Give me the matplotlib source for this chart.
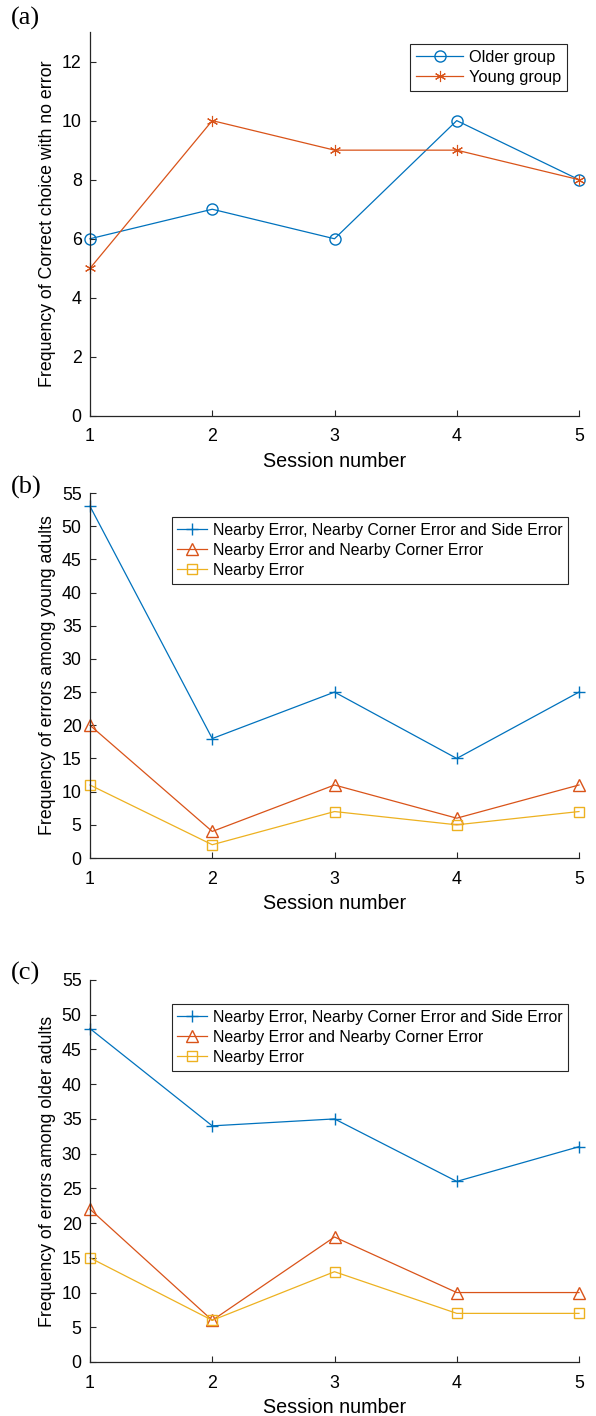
import matplotlib
matplotlib.use("Agg")
import matplotlib.pyplot as plt

sessions = [1, 2, 3, 4, 5]
older_correct = [6, 7, 6, 10, 8]
young_correct = [5, 10, 9, 9, 8]

young_all = [53, 18, 25, 15, 25]
young_nc = [20, 4, 11, 6, 11]
young_n = [11, 2, 7, 5, 7]

older_all = [48, 34, 35, 26, 31]
older_nc = [22, 6, 18, 10, 10]
older_n = [15, 6, 13, 7, 7]

lab_all = "Nearby Error, Nearby Corner Error and Side Error"
lab_nc = "Nearby Error and Nearby Corner Error"
lab_n = "Nearby Error"

C1, C2, C3 = "#0072BD", "#D95319", "#EDB120"
AX = "#262626"

plt.rcParams["font.family"] = ["Liberation Sans", "DejaVu Sans"]
plt.rcParams["font.size"] = 12

fig = plt.figure(figsize=(5.96, 14.16), dpi=100)
L, W = 90/596, (579-90)/596

def mkax(top, bottom):
    return fig.add_axes([L, 1-bottom/1416, W, (bottom-top)/1416])

def style(ax, ylim, yticks, ylabel):
    ax.set_xlim(1, 5)
    ax.set_ylim(*ylim)
    ax.set_xticks(sessions)
    ax.set_yticks(yticks)
    for s in ["top", "right"]:
        ax.spines[s].set_visible(False)
    for s in ["left", "bottom"]:
        ax.spines[s].set_color(AX)
        ax.spines[s].set_linewidth(0.9)
    ax.tick_params(direction="in", length=4, colors=AX, labelsize=12.8, labelcolor="black")
    ax.tick_params(axis="y", pad=6)
    ax.tick_params(axis="x", pad=9)
    ax.set_xlabel("Session number", fontsize=14.2, labelpad=5)
    ax.set_ylabel(ylabel, fontsize=12.8, labelpad=4)

ms = dict(markersize=8, markerfacecolor="none", linewidth=0.9, clip_on=False)
legkw = dict(fancybox=False, framealpha=1, edgecolor=AX, fontsize=11.4, handlelength=1.9,
             borderpad=0.35, labelspacing=0.33, handletextpad=0.35, borderaxespad=0)

# (a)
ax = mkax(32, 416)
ax.plot(sessions, older_correct, color=C1, marker="o", label="Older group", **ms)
ax.plot(sessions, young_correct, color=C2, marker=(6, 2, 0), label="Young group",
        markeredgewidth=0.8, **ms)
style(ax, (0, 13), range(0, 13, 2), "Frequency of Correct choice with no error")
leg = ax.legend(loc="upper right", bbox_to_anchor=(1 - 12/489, 1 - 12/384),
                **dict(legkw, fontsize=11.8, handlelength=2.9))
leg.get_frame().set_linewidth(0.8)
fig.text(11/596, 1-18/1416, "(a)", family=["Liberation Serif"], fontsize=19, va="center")

def err_panel(top, bottom, a, b, c, ylabel, tag, ty):
    ax = mkax(top, bottom)
    ax.plot(sessions, a, color=C1, marker="+", label=lab_all, **ms)
    ax.plot(sessions, b, color=C2, marker="^", label=lab_nc, **ms)
    ax.plot(sessions, c, color=C3, marker="s", label=lab_n, **dict(ms, markersize=6.5))
    style(ax, (0, 55), range(0, 56, 5), ylabel)
    h = bottom - top
    leg = ax.legend(loc="upper right", bbox_to_anchor=(1 - 11/489, 1 - 24/h), **legkw)
    leg.get_frame().set_linewidth(0.8)
    fig.text(11/596, 1-ty/1416, tag, family=["Liberation Serif"], fontsize=19, va="center")

err_panel(493, 858, young_all, young_nc, young_n, "Frequency of errors among young adults", "(b)", 487)
err_panel(980, 1362, older_all, older_nc, older_n, "Frequency of errors among older adults", "(c)", 973)

fig.savefig("out.png", dpi=100, facecolor="white")
